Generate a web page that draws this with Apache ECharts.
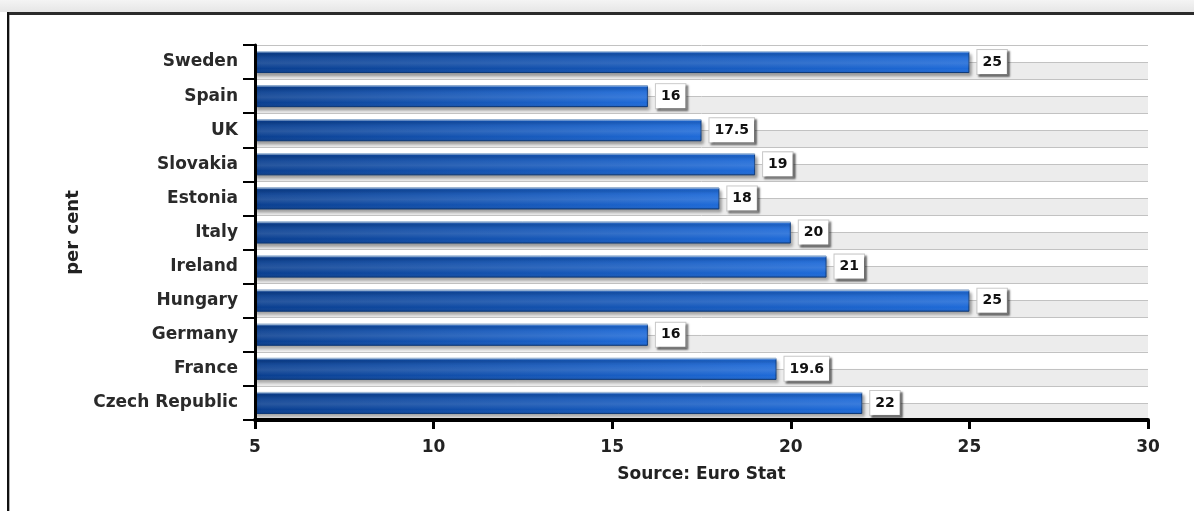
<!DOCTYPE html>
<html lang="en">
<head>
    <meta charset="UTF-8">
    <title>per cent</title>
    <script src="https://cdn.jsdelivr.net/npm/echarts@6/dist/echarts.min.js"></script>
    <style>
        html, body { margin: 0; padding: 0; background: #fff; }
    </style>
</head>
<body>
<div id="chartBox" style="width: 1194px; height: 511px;"></div>
<script>
    // 国家（从上到下）
    var countries = ['Sweden', 'Spain', 'UK', 'Slovakia', 'Estonia', 'Italy',
        'Ireland', 'Hungary', 'Germany', 'France', 'Czech Republic'];
    // 百分比
    var values = [25, 16, 17.5, 19, 18, 20, 21, 25, 16, 19.6, 22];
    // x轴刻度
    var xMin = 5;
    var xMax = 30;
    var xStep = 5;

    var fontFam = '"DejaVu Sans", "Liberation Sans", Arial, sans-serif';

    var chart = echarts.init(document.getElementById('chartBox'));

    var option = {
        animation: false,
        // 外框
        graphic: [
            {
                type: 'rect',
                shape: { x: 0, y: 0, width: 1194, height: 12 },
                style: {
                    fill: new echarts.graphic.LinearGradient(0, 0, 0, 1, [
                        { offset: 0, color: '#f4f4f4' },
                        { offset: 1, color: '#e6e6e6' }
                    ])
                },
                silent: true
            },
            {
                type: 'rect',
                shape: { x: 7, y: 12, width: 1187, height: 3 },
                style: { fill: '#2b2b2b' },
                silent: true
            },
            {
                type: 'rect',
                shape: { x: 7, y: 12, width: 2, height: 499 },
                style: { fill: '#111' },
                silent: true
            },
            {
                type: 'rect',
                shape: { x: 9, y: 15, width: 1, height: 496 },
                style: { fill: '#b0b0b0' },
                silent: true
            }
        ],
        grid: {
            left: 255,
            right: 46,
            top: 45,
            bottom: 91
        },
        xAxis: {
            type: 'value',
            min: xMin,
            max: xMax,
            interval: xStep,
            name: 'Source: Euro Stat',
            nameLocation: 'middle',
            nameGap: 46,
            nameTextStyle: {
                fontFamily: fontFam,
                fontWeight: 'bold',
                fontSize: 17,
                color: '#222'
            },
            axisLine: {
                show: true,
                lineStyle: { color: '#000', width: 4 }
            },
            axisTick: {
                show: true,
                length: 9,
                lineStyle: { color: '#000', width: 3 }
            },
            axisLabel: {
                margin: 19,
                fontFamily: fontFam,
                fontWeight: 'bold',
                fontSize: 17,
                color: '#222'
            },
            splitLine: { show: false }
        },
        yAxis: [
            {
                type: 'category',
                data: countries,
                inverse: true,
                name: 'per cent',
                nameLocation: 'middle',
                nameGap: 172,
                nameTextStyle: {
                    fontFamily: fontFam,
                    fontWeight: 'bold',
                    fontSize: 18,
                    color: '#222'
                },
                axisLine: {
                    show: true,
                    lineStyle: { color: '#000', width: 3 }
                },
                axisTick: {
                    show: true,
                    length: 12,
                    lineStyle: { color: '#000', width: 2 }
                },
                axisLabel: {
                    margin: 17,
                    fontFamily: fontFam,
                    fontWeight: 'bold',
                    fontSize: 17,
                    color: '#2a2a2a'
                },
                splitLine: { show: false },
                z: 5
            },
            {
                // 背景条纹（半格一条）
                type: 'value',
                position: 'right',
                min: 0,
                max: countries.length * 2,
                interval: 1,
                axisLine: { show: false },
                axisTick: { show: false },
                axisLabel: { show: false },
                splitLine: {
                    show: true,
                    lineStyle: { color: '#c2c2c2', width: 1 }
                },
                splitArea: {
                    show: true,
                    areaStyle: { color: ['#ececec', '#ffffff'] }
                }
            }
        ],
        series: [
            {
                type: 'bar',
                data: values,
                barWidth: 22,
                itemStyle: {
                    color: new echarts.graphic.LinearGradient(0, 0, 1, 0, [
                        { offset: 0, color: '#0a3f90' },
                        { offset: 1, color: '#1e6ad8' }
                    ]),
                    borderColor: '#0b3a7e',
                    borderWidth: 1,
                    shadowColor: 'rgba(0, 0, 0, 0.35)',
                    shadowBlur: 3,
                    shadowOffsetX: 2,
                    shadowOffsetY: 3
                },
                label: {
                    show: true,
                    position: 'right',
                    distance: 8,
                    fontFamily: fontFam,
                    fontWeight: 'bold',
                    fontSize: 14,
                    lineHeight: 17,
                    color: '#111',
                    backgroundColor: '#fff',
                    borderColor: '#c8c8c8',
                    borderWidth: 1,
                    padding: [4, 5, 3, 5],
                    shadowColor: 'rgba(0, 0, 0, 0.45)',
                    shadowBlur: 2,
                    shadowOffsetX: 2,
                    shadowOffsetY: 2
                },
                z: 3
            },
            {
                // 高光
                type: 'bar',
                data: values,
                barWidth: 22,
                barGap: '-100%',
                silent: true,
                itemStyle: {
                    color: new echarts.graphic.LinearGradient(0, 0, 0, 1, [
                        { offset: 0, color: 'rgba(220, 240, 255, 0.9)' },
                        { offset: 0.1, color: 'rgba(255, 255, 255, 0)' },
                        { offset: 0.55, color: 'rgba(255, 255, 255, 0.12)' },
                        { offset: 0.8, color: 'rgba(255, 255, 255, 0)' },
                        { offset: 1, color: 'rgba(0, 0, 0, 0.1)' }
                    ])
                },
                z: 4
            }
        ]
    };

    chart.setOption(option);
</script>
</body>
</html>
